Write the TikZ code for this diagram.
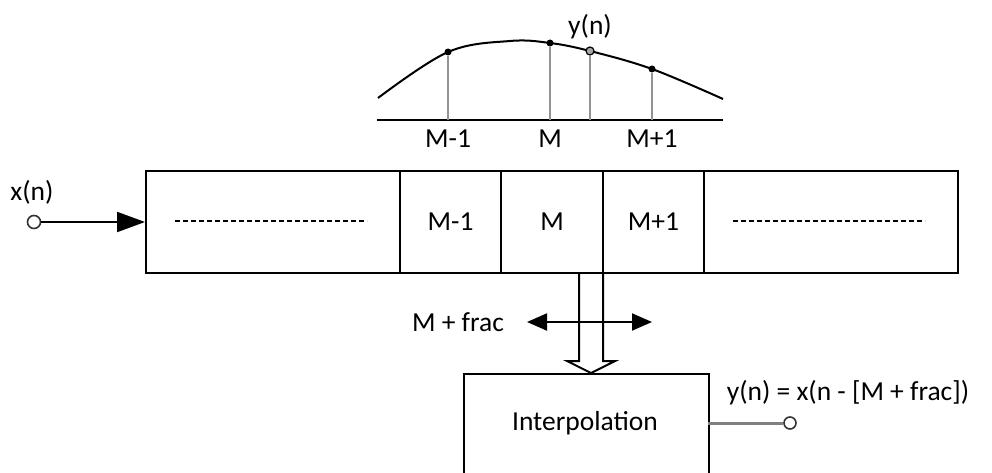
\documentclass[tikz,border=0pt]{standalone}
\usepackage{fontspec}
\setmainfont{Carlito}
\usetikzlibrary{arrows.meta}
\begin{document}
\begin{tikzpicture}[x=1pt,y=-1pt,
  lbl/.style={font=\fontsize{27.5}{31}\selectfont, inner sep=0pt, anchor=center},
  cell/.style={draw=black, line width=2pt, minimum height=102pt, inner sep=0pt, anchor=north west},
  dashline/.style={line width=1.6pt, dash pattern=on 5pt off 3pt},
  stem/.style={draw=gray!85, line width=2.6pt},
  dot/.style={circle, fill=black, inner sep=0pt, minimum size=7pt},
  port/.style={circle, draw=black!80, fill=white, line width=1.6pt, inner sep=0pt, minimum size=13pt},
  conn/.style={line width=2pt}
]
\useasboundingbox (0,0) rectangle (992,473);

% top graph
\coordinate (b1) at (377,120);
\coordinate (b2) at (723,120);
\draw[line width=2pt] (b1) -- (b2);
\draw[line width=2pt] plot[smooth, tension=0.6] coordinates {(378,98) (448,52) (510,41) (550,43) (590,51) (652,69) (723,99)};
\coordinate (g1) at (448,120);
\coordinate (g2) at (550,120);
\coordinate (g3) at (590,120);
\coordinate (g4) at (652,120);
\node[dot] (p1) at (448,52) {};
\node[dot] (p2) at (550,43) {};
\node[dot] (p4) at (652,69) {};
\node[circle, draw=black, fill=gray!70, line width=1.2pt, inner sep=0pt, minimum size=8pt] (p3) at (590,51) {};
\draw[stem] (p1) -- (g1);
\draw[stem] (p2) -- (g2);
\draw[stem] (p3) -- (g3);
\draw[stem] (p4) -- (g4);
\node[lbl] (l1) at (448,139) {M-1};
\node[lbl] (l2) at (550,139) {M};
\node[lbl] (l4) at (652,139) {M+1};
\node[lbl] (ly) at (590,27) {y(n)};

% delay line cells
\node[cell, minimum width=254pt] (c1) at (145,170) {};
\node[cell, minimum width=101pt] (c2) at (399,170) {};
\node[cell, minimum width=102pt] (c3) at (500,170) {};
\node[cell, minimum width=101pt] (c4) at (602,170) {};
\node[cell, minimum width=254pt] (c5) at (703,170) {};
\node[lbl] at (c2.center) {M-1};
\node[lbl] at (c3.center) {M};
\node[lbl] at (c4.center) {M+1};
\coordinate (d1a) at (175,221);
\coordinate (d1b) at (367,221);
\coordinate (d5a) at (733,221);
\coordinate (d5b) at (925,221);
\draw[dashline] (d1a) -- (d1b);
\draw[dashline] (d5a) -- (d5b);

% input
\node[port] (in) at (34,222) {};
\node[lbl] (xn) at (32,192) {x(n)};
\draw[conn, -{Triangle[length=28pt, width=20pt]}] (in) -- (c1.west);

% hollow arrow
\draw[line width=2pt] (579,272) -- (579,361) -- (567,361) -- (591,373) -- (615,361) -- (603,361) -- (603,272);

% M + frac double arrow
\coordinate (h1) at (527,322);
\coordinate (h2) at (652,322);
\draw[conn, {Triangle[length=20pt, width=17pt]}-{Triangle[length=20pt, width=17pt]}] (h1) -- (h2);
\node[lbl] (mf) at (458,322) {M + frac};

% interpolation box
\node[draw=black, line width=2pt, minimum width=245pt, minimum height=120pt, anchor=north west, inner sep=0pt] (ip) at (463,373) {};
\node[lbl] (ipt) at (585,423) {Interpolation};
\node[port, minimum size=12pt] (out) at (790,423) {};
\coordinate (ipr) at (708,423);
\draw[draw=gray, line width=3pt] (ipr) -- (out);
\node[lbl] (eq) at (848,393) {y(n) = x(n - [M + frac])};
\end{tikzpicture}
\end{document}
